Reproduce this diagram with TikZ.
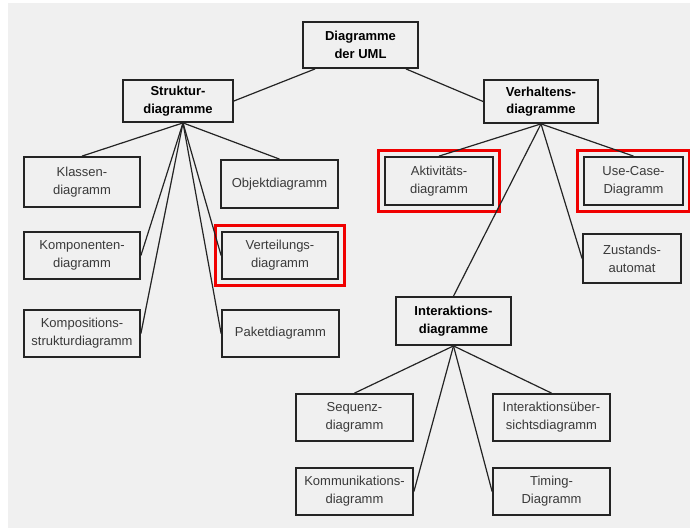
\documentclass[tikz,border=0pt]{standalone}
\usepackage{fontspec}
\setmainfont{Liberation Sans}
\usetikzlibrary{fit}
\definecolor{bg}{HTML}{F0F0F0}
\definecolor{ink}{HTML}{242424}
\definecolor{txt}{HTML}{3A3A3A}
\definecolor{mark}{HTML}{F00000}
\tikzset{
  box/.style={draw=ink, line width=1.8pt, fill=bg, align=center, inner sep=0pt,
    font=\fontsize{13}{18}\selectfont, text=txt},
  catbox/.style={box, font=\fontsize{13}{17.5}\selectfont\bfseries, text=black},
  link/.style={draw=ink, line width=1.2pt},
  hilite/.style={draw=mark, line width=2.8pt, inner sep=5.5pt}
}
\begin{document}
\begin{tikzpicture}[x=1pt, y=-1pt]
  % canvas
  \useasboundingbox (0,0) rectangle (690,528);
  \fill[white] (0,0) rectangle (690,528);
  \fill[bg] (8,3) rectangle (690,528);

  % top level
  \node[catbox, minimum width=115pt, minimum height=46pt] (root) at (360.5,45) {Diagramme\\der UML};
  \node[catbox, minimum width=110pt, minimum height=42pt] (struk) at (178,101) {Struktur-\\diagramme};
  \node[catbox, minimum width=114pt, minimum height=43pt] (verh) at (541,101.5) {Verhaltens-\\diagramme};

  % structure diagrams
  \node[box, minimum width=116pt, minimum height=50pt] (klassen) at (82,182) {Klassen-\\diagramm};
  \node[box, minimum width=117pt, minimum height=48pt] (objekt) at (279.5,184) {Objektdiagramm};
  \node[box, minimum width=116pt, minimum height=47pt] (kompon) at (82,255.5) {Komponenten-\\diagramm};
  \node[box, minimum width=116pt, minimum height=47pt] (verteil) at (280,255.5) {Verteilungs-\\diagramm};
  \node[box, minimum width=116pt, minimum height=47pt] (kompos) at (82,333.5) {Kompositions-\\strukturdiagramm};
  \node[box, minimum width=117pt, minimum height=47pt] (paket) at (280.5,333.5) {Paketdiagramm};

  % behaviour diagrams
  \node[box, minimum width=108pt, minimum height=48pt] (aktiv) at (439,181) {Aktivitäts-\\diagramm};
  \node[box, minimum width=99pt, minimum height=48pt] (usecase) at (633.5,181) {Use-Case-\\Diagramm};
  \node[box, minimum width=98pt, minimum height=49pt] (zustand) at (632,258.5) {Zustands-\\automat};
  \node[catbox, minimum width=115pt, minimum height=48pt] (interakt) at (453.5,321) {Interaktions-\\diagramme};

  % interaction diagrams
  \node[box, minimum width=117pt, minimum height=47pt] (sequenz) at (354.5,417.5) {Sequenz-\\diagramm};
  \node[box, minimum width=117pt, minimum height=47pt] (ueber) at (551.5,417.5) {Interaktionsüber-\\sichtsdiagramm};
  \node[box, minimum width=117pt, minimum height=47pt] (komm) at (354.5,491.5) {Kommunikations-\\diagramm};
  \node[box, minimum width=117pt, minimum height=47pt] (timing) at (551.5,491.5) {Timing-\\Diagramm};

  % highlighted diagrams
  \node[hilite, fit=(aktiv)] (hlaktiv) {};
  \node[hilite, fit=(usecase)] (hlusecase) {};
  \node[hilite, fit=(verteil)] (hlverteil) {};

  % connectors
  \coordinate (rootL) at ([xshift=13pt]root.south west);
  \coordinate (rootR) at ([xshift=-13pt]root.south east);
  \coordinate (strukB) at ([xshift=5pt]struk.south);
  \draw[link] (rootL) -- (struk.east);
  \draw[link] (rootR) -- (verh.west);

  \draw[link] (strukB) -- (klassen.north);
  \draw[link] (strukB) -- (objekt.north);
  \draw[link] (strukB) -- (kompon.east);
  \draw[link] (strukB) -- (kompos.east);
  \draw[link] (strukB) -- (verteil.west);
  \draw[link] (strukB) -- (paket.west);

  \draw[link] (verh.south) -- (aktiv.north);
  \draw[link] (verh.south) -- (usecase.north);
  \draw[link] (verh.south) -- (zustand.west);
  \draw[link] (verh.south) -- (interakt.north);

  \draw[link] (interakt.south) -- (sequenz.north);
  \draw[link] (interakt.south) -- (ueber.north);
  \draw[link] (interakt.south) -- (komm.east);
  \draw[link] (interakt.south) -- (timing.west);
\end{tikzpicture}
\end{document}
